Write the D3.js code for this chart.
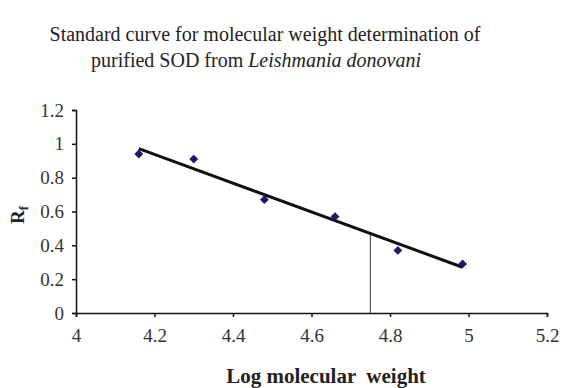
<!DOCTYPE html>
<html>
<head>
<meta charset="utf-8">
<script src="https://cdn.jsdelivr.net/npm/d3@7"></script>
<style>
  body { margin: 0; background: #fff; }
  svg { display: block; font-family: "Liberation Serif", "Times New Roman", serif; }
</style>
</head>
<body>
<svg id="chart" width="564" height="388"></svg>
<script>
// datos
const logMW = [4.16, 4.30, 4.48, 4.66, 4.82, 4.985];
const rfValues = [0.94, 0.91, 0.67, 0.57, 0.37, 0.29];
const xTicks = [4, 4.2, 4.4, 4.6, 4.8, 5, 5.2];
const yTicks = [0, 0.2, 0.4, 0.6, 0.8, 1, 1.2];
const sampleLogMW = 4.75; // línea vertical de la muestra

const svg = d3.select("#chart");
const margin = { left: 76, right: 17, top: 110, bottom: 75 };
const width = 564, height = 388;

const x = d3.scaleLinear().domain([4, 5.2]).range([margin.left, width - margin.right]);
const y = d3.scaleLinear().domain([0, 1.2]).range([height - margin.bottom, margin.top]);

// Título
const title = svg.append("text")
    .attr("text-anchor", "middle")
    .attr("font-size", 20)
    .attr("fill", "#222");
title.append("tspan").attr("x", 265).attr("y", 41)
    .text("Standard curve for molecular weight determination of");
const t2 = title.append("tspan").attr("x", 256).attr("y", 67);
t2.append("tspan").text("purified SOD from ");
t2.append("tspan").attr("font-style", "italic").text("Leishmania donovani");

// Recta de regresión (mínimos cuadrados)
const mx = d3.mean(logMW), my = d3.mean(rfValues);
const slope = d3.sum(logMW, (v, i) => (v - mx) * (rfValues[i] - my)) /
              d3.sum(logMW, v => (v - mx) * (v - mx));
const fit = v => my + slope * (v - mx);

// Ejes
const xAxis = d3.axisBottom(x).tickValues(xTicks).tickSize(4).tickFormat(d3.format("~g"));
const yAxis = d3.axisLeft(y).tickValues(yTicks).tickSize(4).tickFormat(d3.format("~g"));

const gx = svg.append("g").attr("transform", `translate(0,${y(0)})`).call(xAxis);
const gy = svg.append("g").attr("transform", `translate(${x(4)},0)`).call(yAxis);

[gx, gy].forEach(g => {
    g.select(".domain").attr("stroke", "#111").attr("stroke-width", 1.5);
    g.selectAll(".tick line").attr("stroke", "#111").attr("stroke-width", 1.5);
    g.selectAll(".tick text")
        .attr("font-family", "Liberation Serif, serif")
        .attr("font-size", 19)
        .attr("fill", "#333");
});
gx.selectAll(".tick text").attr("y", 12).attr("dy", "0.9em");
gy.selectAll(".tick text").attr("x", -12);

// Línea vertical de la muestra
svg.append("line")
    .attr("x1", x(sampleLogMW)).attr("x2", x(sampleLogMW))
    .attr("y1", y(0)).attr("y2", y(fit(sampleLogMW)))
    .attr("stroke", "#555")
    .attr("stroke-width", 1.2);

// Línea de tendencia
const [xmin, xmax] = d3.extent(logMW);
svg.append("line")
    .attr("x1", x(xmin)).attr("y1", y(fit(xmin)))
    .attr("x2", x(xmax)).attr("y2", y(fit(xmax)))
    .attr("stroke", "#111")
    .attr("stroke-width", 3);

// Puntos (rombos)
svg.selectAll(".pt")
    .data(logMW)
    .enter()
    .append("path")
    .attr("class", "pt")
    .attr("d", d3.symbol().type(d3.symbolDiamond2).size(50))
    .attr("transform", (d, i) => `translate(${x(d)},${y(rfValues[i])})`)
    .attr("fill", "#1b1b6e");

// Títulos de los ejes
svg.append("text")
    .attr("x", 326).attr("y", 383)
    .attr("text-anchor", "middle")
    .attr("font-size", 21)
    .attr("font-weight", "bold")
    .attr("fill", "#222")
    .attr("xml:space", "preserve")
    .text("Log molecular  weight");

const yt = svg.append("text")
    .attr("transform", "translate(24,215) rotate(-90)")
    .attr("text-anchor", "middle")
    .attr("font-size", 19)
    .attr("font-weight", "bold")
    .attr("fill", "#222");
yt.append("tspan").text("R");
yt.append("tspan").attr("font-size", 13).attr("dy", 4).text("f");
</script>
</body>
</html>
